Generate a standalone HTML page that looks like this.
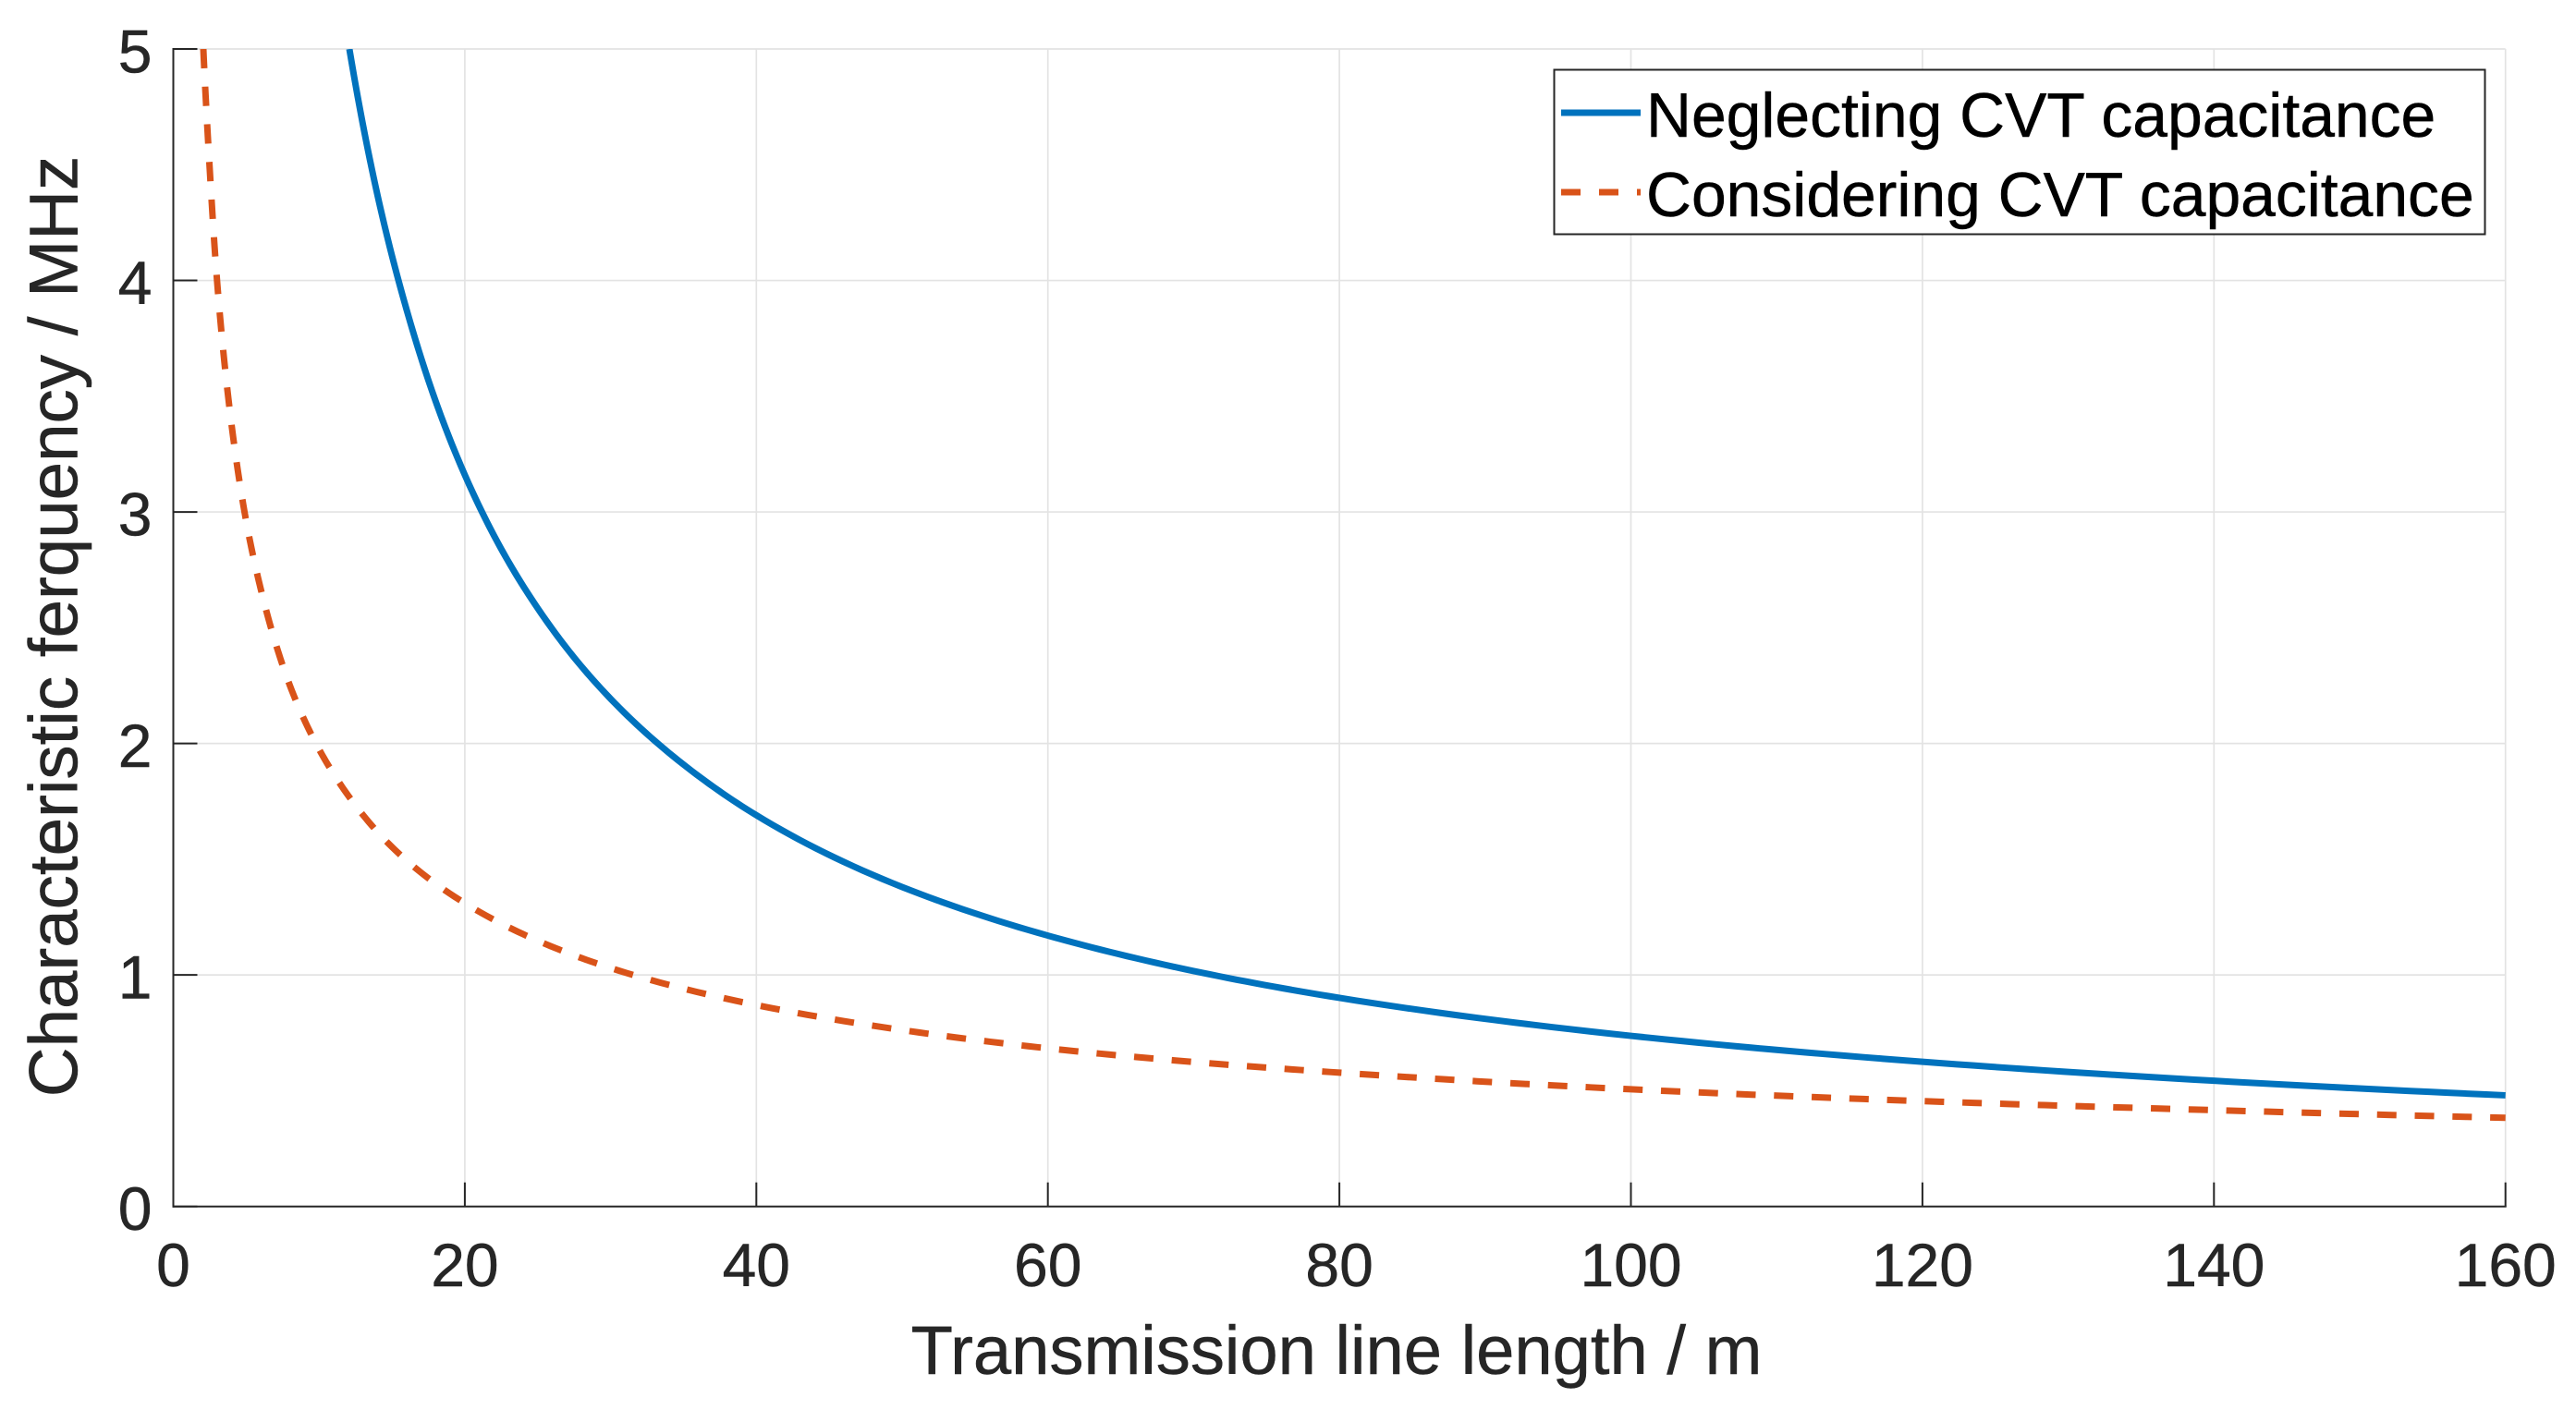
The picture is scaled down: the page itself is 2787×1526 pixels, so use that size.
<!DOCTYPE html>
<html lang="en">
<head>
<meta charset="utf-8">
<title>Characteristic frequency vs transmission line length</title>
<style>
  html, body { margin: 0; padding: 0; background: #ffffff; }
  svg { display: block; }
  text { font-family: "Liberation Sans", Arial, sans-serif; }
</style>
</head>
<body>
<svg id="chart" xmlns="http://www.w3.org/2000/svg" width="2787" height="1526" viewBox="0 0 2787 1526">
  <defs>
    <clipPath id="plot-clip"><rect x="187.5" y="53" width="2523.5" height="1253"/></clipPath>
  </defs>
  <g id="grid"></g>
  <g id="axes"></g>
  <g id="series" clip-path="url(#plot-clip)"></g>
  <text x="1446" y="1487" font-size="74.2" fill="#262626" stroke="#262626" stroke-width="0.5" text-anchor="middle">Transmission line length / m</text>
  <text transform="translate(83.5 678) rotate(-90)" font-size="74.5" fill="#262626" stroke="#262626" stroke-width="0.5" text-anchor="middle">Characteristic ferquency / MHz</text>
  <g>
    <rect x="1681.5" y="75.5" width="1007" height="178" fill="#ffffff" stroke="#262626" stroke-width="2"/>
    <line x1="1689" y1="122" x2="1775" y2="122" stroke="#0072bd" stroke-width="7"/>
    <line x1="1689" y1="208" x2="1775" y2="208" stroke="#d95319" stroke-width="7" stroke-dasharray="21 20"/>
    <text x="1781" y="148" font-size="67.8" fill="#000000" stroke="#000000" stroke-width="0.5">Neglecting CVT capacitance</text>
    <text x="1781" y="234" font-size="67.8" fill="#000000" stroke="#000000" stroke-width="0.5">Considering CVT capacitance</text>
  </g>
</svg>
<script>
const xTickLabels = [0, 20, 40, 60, 80, 100, 120, 140, 160];
const yTickLabels = [0, 1, 2, 3, 4, 5];

const neglectingLength = [12.08, 14, 16, 18, 20, 22.5, 25, 27.5, 30, 35, 40, 50, 60, 70, 80, 100, 120, 140, 160];
const neglectingFreq = [5, 4.371, 3.875, 3.478, 3.16, 2.84, 2.584, 2.371, 2.193, 1.909, 1.69, 1.38, 1.17, 1.017, 0.901, 0.737, 0.625, 0.543, 0.48];

const consideringLength = [2.06, 2.5, 3, 4, 5, 6, 7, 8, 10, 12, 15, 20, 25, 30, 40, 50, 60, 70, 80, 100, 120, 140, 160];
const consideringFreq = [5, 4.48, 4.0, 3.375, 2.96, 2.667, 2.436, 2.25, 1.975, 1.775, 1.553, 1.31, 1.148, 1.03, 0.87, 0.762, 0.683, 0.624, 0.578, 0.506, 0.455, 0.416, 0.383];

const NS = 'http://www.w3.org/2000/svg';
const plotLeft = 187.5, plotRight = 2710.7, plotTop = 53, plotBottom = 1305.7;
const xMax = 160, yMax = 5;
const INK = '#262626', GRID = '#e3e3e3';

function xScale(v) { return plotLeft + (v / xMax) * (plotRight - plotLeft); }
function yScale(v) { return plotBottom - (v / yMax) * (plotBottom - plotTop); }

function make(tag, attrs, parent) {
  const el = document.createElementNS(NS, tag);
  for (const k in attrs) el.setAttribute(k, attrs[k]);
  parent.appendChild(el);
  return el;
}

/* Smooth path through the data: Hermite spline in log-log space, mapped through the axis scales. */
function smoothPath(xs, ys) {
  const lx = xs.map(Math.log), ly = ys.map(Math.log);
  const n = xs.length;
  const slope = [];
  for (let i = 0; i < n; i++) {
    const a = Math.max(i - 1, 0), b = Math.min(i + 1, n - 1);
    slope.push((ly[b] - ly[a]) / (lx[b] - lx[a]));
  }
  let d = 'M' + xScale(xs[0]).toFixed(2) + ' ' + yScale(ys[0]).toFixed(2);
  for (let i = 0; i < n - 1; i++) {
    const h = lx[i + 1] - lx[i];
    for (let s = 1; s <= 16; s++) {
      const t = s / 16, t2 = t * t, t3 = t2 * t;
      const u = lx[i] + h * t;
      const v = (2 * t3 - 3 * t2 + 1) * ly[i] + (t3 - 2 * t2 + t) * h * slope[i] +
                (-2 * t3 + 3 * t2) * ly[i + 1] + (t3 - t2) * h * slope[i + 1];
      d += 'L' + xScale(Math.exp(u)).toFixed(2) + ' ' + yScale(Math.exp(v)).toFixed(2);
    }
  }
  return d;
}

const gridG = document.getElementById('grid');
const axesG = document.getElementById('axes');
const seriesG = document.getElementById('series');

xTickLabels.forEach(function (v) {
  const x = xScale(v);
  if (v > 0) {
    const g = make('line', { x1: x, x2: x, y1: plotTop, y2: plotBottom, stroke: GRID, 'stroke-width': 1.7 }, gridG);
    
    
  }
  const t = make('line', { x1: x, x2: x, y1: plotBottom, y2: plotBottom - 26, stroke: INK, 'stroke-width': 2 }, axesG);
  
  
  const l = make('text', { x: x, y: 1392, 'font-size': 66, fill: INK, stroke: INK, 'stroke-width': 0.5, 'text-anchor': 'middle' }, axesG);
  
  
  l.textContent = v;
});

yTickLabels.forEach(function (v) {
  const y = yScale(v);
  if (v > 0) {
    const g = make('line', { x1: plotLeft, x2: plotRight, y1: y, y2: y, stroke: GRID, 'stroke-width': 1.7 }, gridG);
    
    
  }
  const t = make('line', { x1: plotLeft, x2: plotLeft + 26, y1: y, y2: y, stroke: INK, 'stroke-width': 2 }, axesG);
  
  
  const l = make('text', { x: 164.5, y: y + 25.5, 'font-size': 66, fill: INK, stroke: INK, 'stroke-width': 0.5, 'text-anchor': 'end' }, axesG);
  
  
  l.textContent = v;
});

const xAxisLine = make('line', { x1: plotLeft - 1, x2: plotRight + 1, y1: plotBottom, y2: plotBottom, stroke: INK, 'stroke-width': 2 }, axesG);


const yAxisLine = make('line', { x1: plotLeft, x2: plotLeft, y1: plotTop - 1, y2: plotBottom + 1, stroke: INK, 'stroke-width': 2 }, axesG);



const neglectingLine = make('path', { d: smoothPath(neglectingLength, neglectingFreq), fill: 'none', stroke: '#0072bd', 'stroke-width': 7 }, seriesG);



const consideringLine = make('path', { d: smoothPath(consideringLength, consideringFreq), fill: 'none', stroke: '#d95319', 'stroke-width': 7, 'stroke-dasharray': '21 19.8' }, seriesG);


</script>
</body>
</html>
